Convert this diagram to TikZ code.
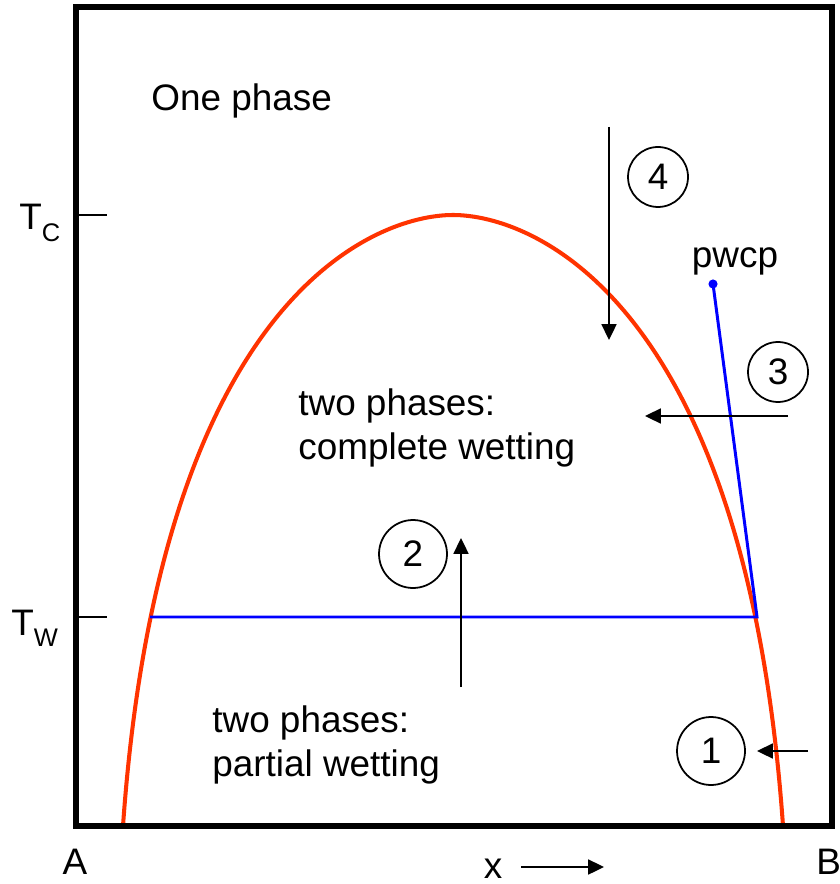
\documentclass[tikz,border=0pt]{standalone}
\usepackage{fontspec}
\setmainfont{Liberation Sans}
\usetikzlibrary{arrows.meta}
\definecolor{coexred}{RGB}{255,51,0}
\definecolor{wetblue}{RGB}{0,0,255}
\newcommand{\lowsub}[2]{#1\raisebox{-6.5pt}{\fontsize{14.5}{15}\selectfont #2}}

\begin{document}
\begin{tikzpicture}[x=0.02cm,y=-0.02cm,
  every node/.style={font=\fontsize{21}{25}\selectfont,inner sep=0pt},
  stage/.style={circle,draw,line width=1pt,minimum size=#1},
  arr/.style={line width=1.1pt,-{Triangle[length=9pt,width=8.5pt]}}]
\useasboundingbox (0,0) rectangle (839,884);
\draw[coexred,line width=2.3pt] (123,826) .. controls (160,300) and (373,215) .. (453,215)
  .. controls (533,215) and (746,300) .. (783,826);
\draw[line width=3.4pt] (76,7) rectangle (832,826);
\draw[line width=0.85pt] (76,215) -- (107,215);
\draw[line width=0.85pt] (76,617) -- (107,617);
\node[anchor=base west] (tc) at (19,230) {\lowsub{T}{C}};
\node[anchor=base west] (tw) at (11,635) {\lowsub{T}{W}};
\coordinate (twL) at (150,617);
\coordinate (twR) at (757,617);
\coordinate (wcp) at (713,284);
\draw[wetblue,line width=1.7pt] (twL) -- (twR) -- (wcp);
\fill[wetblue] (wcp) circle (2.6pt);
\node[anchor=base] (pwcp) at (735,268) {pwcp};
\node[anchor=base west] (one) at (151,111) {One phase};
\node[anchor=north west,align=left] (cw) at (298,388) {two phases:\\complete wetting};
\node[anchor=north west,align=left] (pw) at (212,705) {two phases:\\partial wetting};
\node[stage=1.36cm] (n1) at (711,751) {1};
\node[stage=1.36cm] (n2) at (413,554) {2};
\node[stage=1.2cm] (n3) at (778,372) {3};
\node[stage=1.2cm] (n4) at (658,177) {4};
\coordinate (a1s) at (808,751); \coordinate (a1e) at (757,751);
\coordinate (a2s) at (461,687); \coordinate (a2e) at (461,538);
\coordinate (a3s) at (788,416); \coordinate (a3e) at (645,416);
\coordinate (a4s) at (609,127); \coordinate (a4e) at (609,340);
\draw[arr] (a1s) -- (a1e);
\draw[arr] (a2s) -- (a2e);
\draw[arr] (a3s) -- (a3e);
\draw[arr] (a4s) -- (a4e);
\node[anchor=base] (A) at (75,874) {A};
\node[anchor=base west] (B) at (816,874) {B};
\node[anchor=base] (x) at (493,878) {x};
\coordinate (xs) at (521,867); \coordinate (xe) at (604,867);
\draw[arr] (xs) -- (xe);
\end{tikzpicture}
\end{document}
